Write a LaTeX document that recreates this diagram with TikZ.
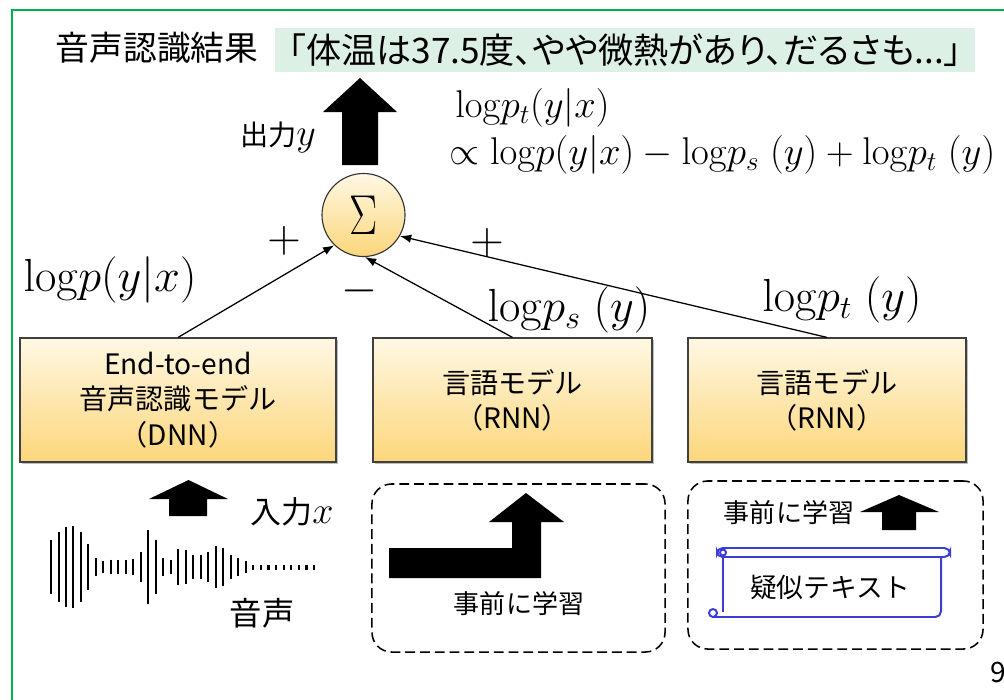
\RequirePackage{fix-cm}
\documentclass[tikz,border=0pt]{standalone}
\usepackage[no-math]{fontspec}
\usepackage{graphicx}
\setmainfont{Noto Sans CJK JP}
\newfontfamily\jpp{Noto Sans CJK JP}[RawFeature=+palt]
\usetikzlibrary{arrows.meta,shadows}
\definecolor{frameg}{RGB}{0,176,80}
\definecolor{resultbg}{RGB}{221,240,230}
\definecolor{boxtop}{RGB}{255,248,228}
\definecolor{boxbot}{RGB}{252,214,122}
\definecolor{scrollblue}{RGB}{60,60,215}
\tikzset{
  fs/.style={font=\fontsize{#1}{#1}\selectfont},
  model/.style={draw=black!75, line width=0.8pt, top color=boxtop, bottom color=boxbot,
    minimum height=3.1cm, align=center, inner sep=0pt,
    font=\fontsize{20}{25}\selectfont,
    drop shadow={shadow xshift=1.2pt, shadow yshift=-1.5pt, fill=black!50, opacity=0.5}},
  conn/.style={-{Latex[length=8pt,width=6pt]}, line width=0.9pt},
  prebox/.style={draw, dashed, dash pattern=on 7pt off 3.5pt, line width=1.1pt,
    rounded corners=14pt, minimum height=4.2cm, inner sep=0pt},
  wave/.style={line width=1.6pt},
  scroll/.style={draw=scrollblue, line width=1.4pt},
  mathlbl/.style={inner sep=0pt, font=\fontsize{33}{33}\selectfont},
}
\begin{document}
\begin{tikzpicture}[x=0.025cm,y=-0.025cm]
\useasboundingbox (0,0) rectangle (1004,699);
% frame
\draw[frameg, line width=1.8pt] (12,705) -- (12,10) -- (1010,10);
% title and result
\node[fs=24, inner sep=0pt] (title) at (157,48) {音声認識結果};
\node[fill=resultbg, minimum width=17.5cm, minimum height=1.1cm, inner sep=0pt,
      font=\jpp\fontsize{25}{28}\selectfont] (result) at (625,50)
      {「体温は37.5度、やや微熱があり、だるさも...」};
% output arrow
\fill (342,165) -- (342,112) -- (323,112) -- (360,78) -- (397,112) -- (378,112) -- (378,165) -- cycle;
\node[fs=20, inner sep=0pt] (outlbl) at (278,137) {出力{\fontsize{27}{27}\selectfont$y$}};
% formula
\node[anchor=west, inner sep=0pt, font=\fontsize{27.5}{28}\selectfont] (form1) at (455,108) {$\mathrm{log}p_t(y|x)$};
\node[anchor=west, inner sep=0pt, font=\fontsize{27.5}{28}\selectfont] (form2) at (449,155)
  {$\propto \mathrm{log}p(y|x)-\mathrm{log}p_s\;(y)+\mathrm{log}p_t\;(y)$};
% sum
\node[circle, draw=black!80, line width=0.8pt, top color=boxtop, bottom color=boxbot,
      minimum size=2.075cm, inner sep=0pt, font=\fontsize{40}{40}\selectfont] (sum) at (363.5,215)
      {\scalebox{0.75}[1]{$\Sigma$}};
% models
\node[model, minimum width=7.9cm] (box1) at (178,400) {End-to-end\\音声認識モデル\\（DNN）};
\node[model, minimum width=6.975cm] (box2) at (512.5,400) {言語モデル\\（RNN）};
\node[model, minimum width=6.95cm] (box3) at (827,400) {言語モデル\\（RNN）};
% connectors
\draw[conn] (box1.north) -- (sum.226);
\draw[conn] (box2.north) -- (sum.272);
\draw[conn] (box3.north) -- (sum.330);
% labels
\node[mathlbl] (lpyx) at (110,280) {$\mathrm{log}p(y|x)$};
\node[mathlbl] (lps) at (569,310) {$\mathrm{log}p_s\;(y)$};
\node[mathlbl] (lpt) at (842,300) {$\mathrm{log}p_t\;(y)$};
\node[mathlbl] (plus1) at (284,241) {$+$};
\node[mathlbl] (minus) at (360,291) {$-$};
\node[mathlbl] (plus2) at (487,243) {$+$};
% input arrow
\fill (169,516) -- (169,499) -- (149,499) -- (188.5,480) -- (228,499) -- (207,499) -- (207,516) -- cycle;
\node[fs=22, inner sep=0pt] (inlbl) at (292,512) {入力{\fontsize{27}{27}\selectfont$x$}};
% waveform
\foreach \x/\h in {50.7/26.7, 59/35, 66/40.3, 73.3/40.7, 81/35, 88.3/22.7, 96/8.8, 103.3/6.3,
  111/7.3, 118.3/7.3, 126/7.3, 133.3/8.3, 141/15, 148.3/37.3, 156/27.3, 163.3/9.3, 171/7.3,
  178.3/18.3, 185.7/17.3, 193.3/11.7, 201/11.7, 208.3/15, 216/20.7, 223.3/19.3, 231/11.7,
  238.3/9.3, 246/6}
  \draw[wave] (\x,{567-\h}) -- (\x,{567+\h});
\foreach \k in {0,...,8}
  \draw[wave] ({253.3+7.6*\k},564.5) -- ({253.3+7.6*\k},569.5);
\node[fs=23, inner sep=0pt] (voice) at (262,613) {音声};
% pretraining box 2
\node[prebox, minimum width=7.325cm] (pre2) at (518.5,568) {};
\fill (389,548) -- (512,548) -- (512,522) -- (489,522) -- (526,493) -- (564,522) -- (541,522) -- (541,578) -- (389,578) -- cycle;
\node[fs=18.5, inner sep=0pt] (pre2lbl) at (519,604) {事前に学習};
% pretraining box 3
\node[prebox, minimum width=7.375cm] (pre3) at (835.5,565) {};
\node[fs=18.5, inner sep=0pt] (pre3lbl) at (789,513) {事前に学習};
\fill (882,530) -- (882,512) -- (860,512) -- (899,495) -- (939,512) -- (916,512) -- (916,530) -- cycle;
% scroll
\draw[scroll, rounded corners=4pt] (717,548) rectangle (950,557);
\draw[scroll] (723,552.5) circle (3);
\draw[scroll] (723,557) -- (723,612);
\draw[scroll, rounded corners=4pt] (941,557) -- (941,617) -- (713,617);
\draw[scroll] (713,613) circle (4);
\node[fs=19, inner sep=0pt] (pseudo) at (830,587) {疑似テキスト};
% page number
\node[fs=20, inner sep=0pt] (page) at (998,672) {9};
\end{tikzpicture}
\end{document}
